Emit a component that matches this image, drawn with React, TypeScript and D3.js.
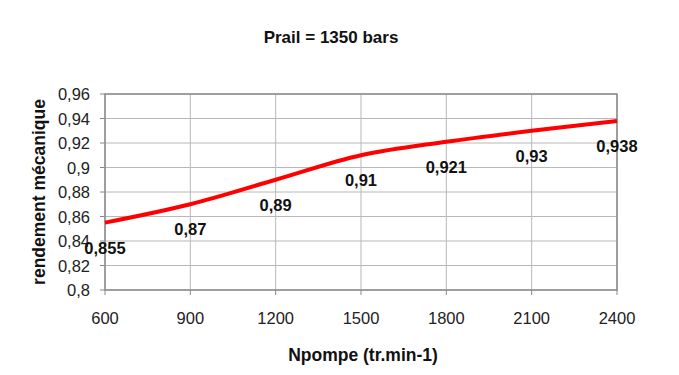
import React from "react";
import * as d3 from "d3";

const speeds = [600, 900, 1200, 1500, 1800, 2100, 2400];
const efficiency = [0.855, 0.87, 0.89, 0.91, 0.921, 0.93, 0.938];
const yTicks = [0.8, 0.82, 0.84, 0.86, 0.88, 0.9, 0.92, 0.94, 0.96];
const xTicks = [600, 900, 1200, 1500, 1800, 2100, 2400];

const W = 679, H = 375;
const L = 105, R = 617, T = 94, B = 290;

const fmt = (v: number) => String(+v.toFixed(3)).replace(".", ",");

export default function App() {
  const x = d3.scaleLinear().domain([600, 2400]).range([L, R]);
  const y = d3.scaleLinear().domain([0.8, 0.96]).range([B, T]);
  const line = d3
    .line<number>()
    .x((_, i) => x(speeds[i]))
    .y((d) => y(d))
    .curve(d3.curveCatmullRom.alpha(0.5));
  const font = "'Liberation Sans', Arial, sans-serif";
  return (
    <svg width={W} height={H} style={{ position: "absolute", left: 0, top: 0, background: "#fff" }} fontFamily={font}>
      <rect width={W} height={H} fill="#fff" />
      <text x={331} y={43} textAnchor="middle" fontSize={17} fontWeight="bold" fill="#111">
        Prail = 1350 bars
      </text>
      {yTicks.map((t) => (
        <g key={"y" + t}>
          <line x1={L} x2={R} y1={y(t)} y2={y(t)} stroke="#b8b8b8" strokeWidth={1} />
          <line x1={L - 5} x2={L} y1={y(t)} y2={y(t)} stroke="#888" strokeWidth={1} />
          <text x={90} y={y(t) + 6} textAnchor="end" fontSize={16.5} fill="#222">
            {fmt(t)}
          </text>
        </g>
      ))}
      {xTicks.map((t) => (
        <g key={"x" + t}>
          <line x1={x(t)} x2={x(t)} y1={T} y2={B} stroke="#b8b8b8" strokeWidth={1} />
          <line x1={x(t)} x2={x(t)} y1={B} y2={B + 5} stroke="#888" strokeWidth={1} />
          <text x={x(t)} y={B + 34} textAnchor="middle" fontSize={16.5} fill="#222">
            {t}
          </text>
        </g>
      ))}
      <rect x={L} y={T} width={R - L} height={B - T} fill="none" stroke="#8a8a8a" strokeWidth={1.5} />
      <path d={line(efficiency) || ""} fill="none" stroke="#ff0000" strokeWidth={4} strokeLinejoin="round" />
      {efficiency.map((v, i) => (
        <text key={"l" + i} x={x(speeds[i])} y={y(v) + 31} textAnchor="middle" fontSize={16.5} fontWeight="bold" fill="#111">
          {fmt(v)}
        </text>
      ))}
      <text x={363} y={361} textAnchor="middle" fontSize={17.5} fontWeight="bold" fill="#111">
        Npompe (tr.min-1)
      </text>
      <text transform={`translate(45,${(T + B) / 2}) rotate(-90)`} textAnchor="middle" fontSize={17.5} fontWeight="bold" fill="#111">
        rendement mécanique
      </text>
    </svg>
  );
}
